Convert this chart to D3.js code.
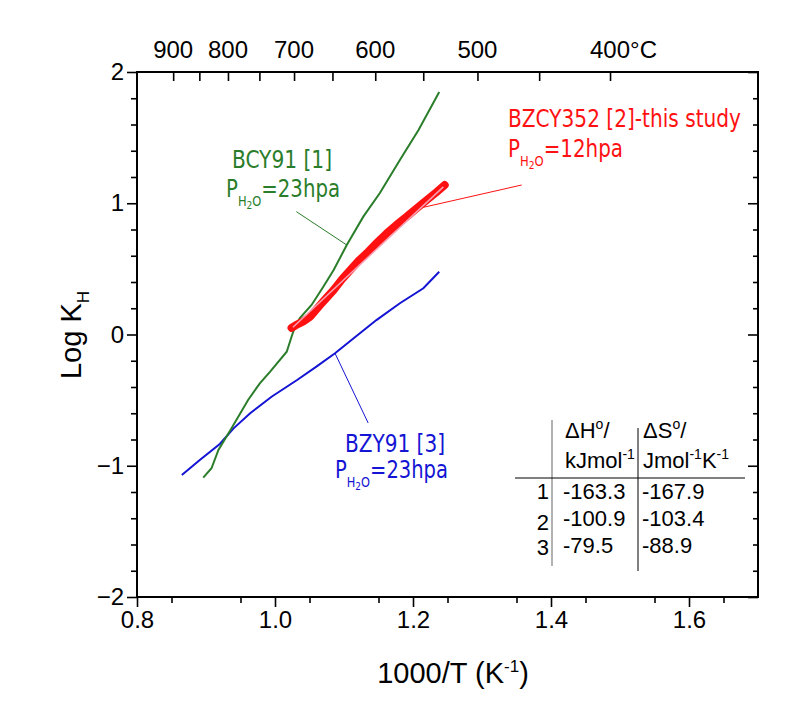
<!DOCTYPE html>
<html><head><meta charset="utf-8">
<script src="https://cdn.jsdelivr.net/npm/d3@7"></script>
<style>
html,body{margin:0;padding:0;background:#fff;}
svg{display:block;}
text{font-family:"Liberation Sans",Arial,sans-serif;}
.lab{font-family:"DejaVu Sans Condensed","DejaVu Sans",sans-serif;font-stretch:condensed;}
</style></head>
<body>
<script>
// ---------- data ----------
const bcyX = [0.896,0.908,0.918,0.937,0.961,0.978,0.993,1.017,1.024,1.029,1.036,1.053,1.070,1.085,1.104,1.128,1.152,1.181,1.208,1.238];
const bcyY = [-1.091,-1.019,-0.880,-0.715,-0.499,-0.372,-0.283,-0.131,-0.017,0.059,0.126,0.225,0.364,0.491,0.682,0.898,1.078,1.330,1.558,1.848];
const bzyX = [0.865,0.891,0.920,0.940,0.964,0.995,1.032,1.060,1.087,1.114,1.147,1.181,1.215,1.238];
const bzyY = [-1.070,-0.956,-0.834,-0.715,-0.600,-0.474,-0.347,-0.245,-0.143,-0.029,0.110,0.238,0.352,0.478];
const bzcyX = [1.024,1.030,1.041,1.051,1.068,1.085,1.097,1.109,1.121,1.133,1.148,1.162,1.176,1.191,1.205,1.220,1.233,1.246];
const bzcyY = [0.050,0.070,0.100,0.136,0.240,0.339,0.420,0.491,0.560,0.619,0.700,0.771,0.835,0.898,0.960,1.025,1.080,1.139];
const bzcyFitX = [1.026,1.244];
const bzcyFitY = [0.055,1.125];
const xTicks = [0.8,1.0,1.2,1.4,1.6];
const yTicks = [-2,-1,0,1,2];
const topCelsius = [900,800,700,600,500,400];
const topCelsiusMinor = [850,750,650,550,450];
const tableRows = ["1","2","3"];
const tableDH = ["-163.3","-100.9","-79.5"];
const tableDS = ["-167.9","-103.4","-88.9"];

// ---------- layout ----------
const W = 807, H = 715;
const m = {l:137, r:49, t:72, b:118};
const svg = d3.select("body").append("svg").attr("width",W).attr("height",H);
const x = d3.scaleLinear().domain([0.8,1.7]).range([m.l, W-m.r]);
const y = d3.scaleLinear().domain([-2,2]).range([H-m.b, m.t]);
const invT = c => 1000/(c+273.15);

const green = "#2a7d2a", blue = "#1414d4", red = "#ff1111";

// frame
svg.append("rect").attr("x",x(0.8)).attr("y",y(2)).attr("width",x(1.7)-x(0.8)).attr("height",y(-2)-y(2))
  .attr("fill","none").attr("stroke","#000").attr("stroke-width",2);

const minorY = d3.range(-1.8,2,0.2).filter(v=>Math.abs(v-Math.round(v))>0.01);
// bottom axis
svg.append("g").attr("transform",`translate(0,${y(-2)})`)
  .call(d3.axisBottom(x).tickValues(xTicks).tickFormat(d3.format(".1f")).tickSize(10).tickPadding(4));
svg.append("g").attr("transform",`translate(0,${y(-2)})`)
  .call(d3.axisBottom(x).tickValues(d3.range(0.85,1.7,0.1)).tickFormat("").tickSize(6));
// left axis
svg.append("g").attr("transform",`translate(${x(0.8)},0)`)
  .call(d3.axisLeft(y).tickValues(yTicks).tickFormat(d3.format("d")).tickSize(10).tickPadding(3));
svg.append("g").attr("transform",`translate(${x(0.8)},0)`)
  .call(d3.axisLeft(y).tickValues(minorY).tickFormat("").tickSize(6));
// right axis (inward)
svg.append("g").attr("transform",`translate(${x(1.7)},0)`)
  .call(d3.axisLeft(y).tickValues(yTicks).tickFormat("").tickSize(10));
svg.append("g").attr("transform",`translate(${x(1.7)},0)`)
  .call(d3.axisLeft(y).tickValues(minorY).tickFormat("").tickSize(5));
// top axis (celsius, inward)
svg.append("g").attr("transform",`translate(0,${y(2)})`)
  .call(d3.axisBottom(x).tickValues(topCelsius.map(invT)).tickFormat("").tickSize(9));
svg.append("g").attr("transform",`translate(0,${y(2)})`)
  .call(d3.axisBottom(x).tickValues(topCelsiusMinor.map(invT)).tickFormat("").tickSize(9));
topCelsius.forEach((c,i)=>{
  svg.append("text").attr("x",x(invT(c))).attr("y",y(2)-14).attr("text-anchor","middle")
    .attr("font-size",24).text(c);
});
{
  const c = topCelsius[topCelsius.length-1];
  svg.append("text").attr("x",x(invT(c))+20).attr("y",y(2)-14).attr("font-size",24).text("°C");
}

svg.selectAll(".domain").remove();
svg.selectAll(".tick line").attr("stroke","#000").attr("stroke-width",1.6);
svg.selectAll(".tick text").attr("font-size",24).attr("fill","#000").attr("font-family","Liberation Sans, Arial, sans-serif");

// axis titles
const xt = svg.append("text").attr("x",453).attr("y",683).attr("text-anchor","middle").attr("font-size",29);
xt.append("tspan").text("1000/T (K");
xt.append("tspan").attr("font-size",17).attr("dy",-11).text("-1");
xt.append("tspan").attr("dy",11).text(")");

const yt = svg.append("text").attr("transform","translate(81,335) rotate(-90)").attr("text-anchor","middle").attr("font-size",29);
yt.append("tspan").text("Log K");
yt.append("tspan").attr("font-size",17).attr("dy",8).text("H");

// ---------- curves ----------
const line = d3.line().x(d=>x(d[0])).y(d=>y(d[1]));
const zip = (a,b)=>a.map((v,i)=>[v,b[i]]);

svg.append("path").datum(zip(bzyX,bzyY)).attr("d",line).attr("fill","none").attr("stroke",blue).attr("stroke-width",2);
svg.append("path").datum(zip(bcyX,bcyY)).attr("d",line).attr("fill","none").attr("stroke",green).attr("stroke-width",2);
svg.append("path").datum(zip(bzcyX,bzcyY)).attr("d",line).attr("fill","none").attr("stroke",red)
  .attr("stroke-width",8).attr("stroke-linejoin","round").attr("stroke-linecap","round");
svg.append("path").datum(zip(bzcyFitX,bzcyFitY)).attr("d",line).attr("fill","none").attr("stroke","#f7a0b4").attr("stroke-width",1.5);

// leader lines
const leader = (x1,y1,x2,y2,col)=>svg.append("line").attr("x1",x(x1)).attr("y1",y(y1)).attr("x2",x(x2)).attr("y2",y(y2))
  .attr("stroke",col).attr("stroke-width",1);
leader(1.031,0.936,1.104,0.682,green);
leader(1.215,0.969,1.3575,1.139,red);
leader(1.087,-0.143,1.135,-0.674,blue);

// labels
function pLabel(xp,yp,col,rest){
  const t = svg.append("text").attr("class","lab").attr("x",xp).attr("y",yp).attr("fill",col).attr("font-size",24);
  t.append("tspan").text("P");
  t.append("tspan").attr("font-size",14).attr("dy",9).text("H");
  t.append("tspan").attr("font-size",11).attr("dy",3).text("2");
  t.append("tspan").attr("font-size",14).attr("dy",-3).text("O");
  t.append("tspan").attr("dy",-9).text(rest);
  return t;
}
function label(xp,yp,col,s,len){
  svg.append("text").attr("class","lab").attr("x",xp).attr("y",yp).attr("fill",col).attr("font-size",24)
    .attr("textLength",len).attr("lengthAdjust","spacingAndGlyphs").text(s);
}
label(232,168,green,"BCY91 [1]",100);
pLabel(226,197,green,"=23hpa").attr("textLength",114).attr("lengthAdjust","spacingAndGlyphs");
label(508,127,red,"BZCY352 [2]-this study",233);
pLabel(508,157,red,"=12hpa").attr("textLength",115).attr("lengthAdjust","spacingAndGlyphs");
label(345,452,blue,"BZY91 [3]",100);
pLabel(335,478,blue,"=23hpa").attr("textLength",113).attr("lengthAdjust","spacingAndGlyphs");

// ---------- table ----------
const tb = svg.append("g").attr("font-size",22);
tb.append("line").attr("x1",552).attr("x2",552).attr("y1",420).attr("y2",566).attr("stroke","#999").attr("stroke-width",1.5);
tb.append("line").attr("x1",638).attr("x2",638).attr("y1",428).attr("y2",571).attr("stroke","#000").attr("stroke-width",1);
tb.append("line").attr("x1",515).attr("x2",745).attr("y1",478).attr("y2",478).attr("stroke","#000").attr("stroke-width",1);
function hdr(xp,yp,parts){
  const t = tb.append("text").attr("x",xp).attr("y",yp);
  parts.forEach(p=>{
    const s = t.append("tspan").text(p[0]);
    if(p[1]==="sup") s.attr("font-size",14).attr("dy",-9);
    if(p[1]==="base") s.attr("dy",9);
  });
}
hdr(565,438,[["ΔH"],["o","sup"],["/","base"]]);
hdr(565,468,[["kJmol"],["-1","sup"]]);
hdr(643,438,[["ΔS"],["o","sup"],["/","base"]]);
hdr(643,468,[["Jmol"],["-1","sup"],["K","base"],["-1","sup"]]);
const rowOff = [0,4,2];
tableRows.forEach((r,i)=>{
  const yy = 499 + i*27;
  tb.append("text").attr("x",549).attr("y",yy+rowOff[i]).attr("text-anchor","end").text(r);
  tb.append("text").attr("x",563).attr("y",yy).text(tableDH[i]);
  tb.append("text").attr("x",642).attr("y",yy).text(tableDS[i]);
});
</script>
</body></html>
